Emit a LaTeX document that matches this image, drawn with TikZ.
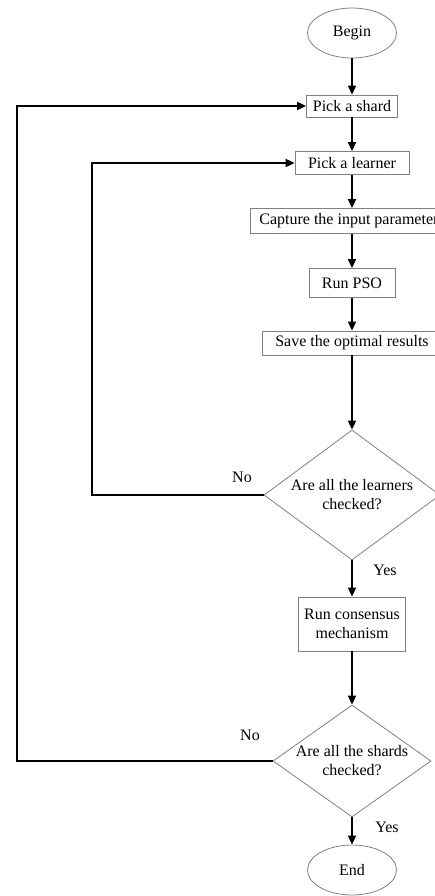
\documentclass[tikz,border=0pt]{standalone}
\usepackage{fontspec}
\setmainfont{Liberation Serif}
\usetikzlibrary{shapes.geometric,arrows.meta}
\begin{document}
\begin{tikzpicture}[x=1pt,y=-1pt,
  txt/.style={font=\fontsize{16}{19}\selectfont},
  box/.style={txt, draw=gray, line width=0.8pt, inner sep=0pt, align=center},
  term/.style={txt, ellipse, draw=gray, line width=0.8pt, inner sep=0pt, minimum width=89pt, minimum height=50pt},
  dec/.style={txt, diamond, draw=gray, line width=0.8pt, inner sep=0pt, align=center},
  conn/.style={line width=1.8pt, -{Triangle[length=9pt,width=8pt]}},
  lbl/.style={txt}
]
\useasboundingbox (0,0) rectangle (435,896);
\clip (0,0) rectangle (435,896);
\node[term] (begin) at (352,33) {Begin};
\node[box, minimum width=91pt, minimum height=22pt] (shard) at (352,106) {Pick a shard};
\node[box, minimum width=114pt, minimum height=23pt] (learner) at (352,163) {Pick a learner};
\node[box, minimum width=204pt, minimum height=25pt] (capture) at (352,221) {Capture the input parameters};
\node[box, minimum width=86pt, minimum height=29pt] (pso) at (352,283) {Run PSO};
\node[box, minimum width=180pt, minimum height=24pt] (save) at (352,343) {Save the optimal results};
\node[dec, aspect=1.35, minimum width=176pt, minimum height=130pt] (d1) at (352,495) {Are all the learners\\checked?};
\node[box, minimum width=107pt, minimum height=54pt] (cons) at (352,624) {Run consensus\\mechanism};
\node[dec, aspect=1.41, minimum width=158pt, minimum height=112pt] (d2) at (352,761) {Are all the shards\\checked?};
\node[term] (end) at (352,870) {End};
\node[lbl] (no1) at (242,477) {No};
\node[lbl] (yes1) at (385,570) {Yes};
\node[lbl] (no2) at (250,735) {No};
\node[lbl] (yes2) at (387,827) {Yes};
\coordinate (l1) at (92,495);
\coordinate (l2) at (17,761);
\draw[conn] (begin.south) -- (shard.north);
\draw[conn] (shard.south) -- (learner.north);
\draw[conn] (learner.south) -- (capture.north);
\draw[conn] (capture.south) -- (pso.north);
\draw[conn] (pso.south) -- (save.north);
\draw[conn] (save.south) -- (d1.north);
\draw[conn] (d1.south) -- (cons.north);
\draw[conn] (cons.south) -- (d2.north);
\draw[conn] (d2.south) -- (end.north);
\draw[conn] (d1.west) -- (l1) |- (learner.west);
\draw[conn] (d2.west) -- (l2) |- (shard.west);
\end{tikzpicture}
\end{document}
